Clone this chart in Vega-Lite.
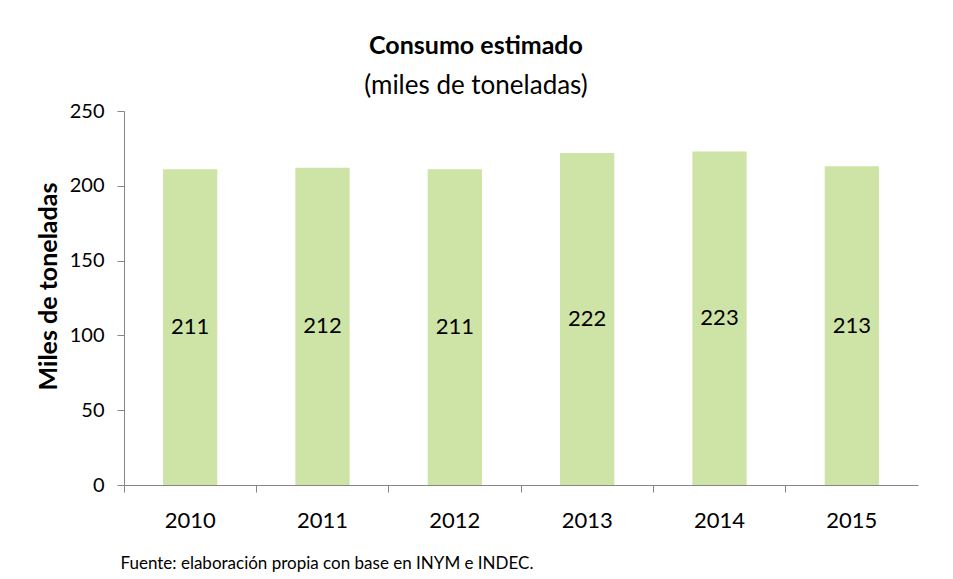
{
  "$schema": "https://vega.github.io/schema/vega-lite/v6.json",
  "autosize": "none",
  "width": 794,
  "height": 374,
  "padding": {"left": 124, "top": 111, "right": 35, "bottom": 94},
  "background": "white",
  "title": {
    "text": "Consumo estimado",
    "subtitle": "(miles de toneladas)",
    "anchor": "middle",
    "dx": -45,
    "offset": 2,
    "font": "Lato",
    "fontSize": 25,
    "fontWeight": "bold",
    "color": "black",
    "subtitleFont": "Lato",
    "subtitleFontSize": 26,
    "subtitleColor": "black",
    "subtitlePadding": 14
  },
  "data": {
    "values": [
      {"year": "2010", "value": 211},
      {"year": "2011", "value": 212},
      {"year": "2012", "value": 211},
      {"year": "2013", "value": 222},
      {"year": "2014", "value": 223},
      {"year": "2015", "value": 213}
    ]
  },
  "encoding": {
    "x": {
      "field": "year",
      "type": "ordinal",
      "scale": {"paddingInner": 0, "paddingOuter": 0},
      "axis": {
        "title": "Fuente: elaboración propia con base en INYM e INDEC.",
        "titleFont": "Lato",
        "titleFontSize": 17,
        "titleFontWeight": "normal",
        "titleColor": "black",
        "titleAnchor": "start",
        "titleAlign": "left",
        "titleBaseline": "middle",
        "titleX": -4,
        "titleY": 78,
        "labelAngle": 0,
        "labelFont": "Lato",
        "labelFontSize": 22,
        "labelColor": "black",
        "labelPadding": 18,
        "bandPosition": 0,
        "tickSize": 7,
        "tickColor": "#868686",
        "domainColor": "#868686",
        "grid": false
      }
    }
  },
  "layer": [
    {
      "mark": {"type": "bar", "color": "#cee4a6", "width": {"band": 0.41}},
      "encoding": {
        "y": {
          "field": "value",
          "type": "quantitative",
          "scale": {"domain": [0, 250], "nice": false},
          "axis": {
            "title": "Miles de toneladas",
            "titleFont": "Lato",
            "titleFontSize": 25,
            "titleFontWeight": "bold",
            "titleColor": "black",
            "titlePadding": 8,
            "titleY": 175,
            "values": [0, 50, 100, 150, 200, 250],
            "labelFont": "Lato",
            "labelFontSize": 20,
            "labelColor": "black",
            "labelPadding": 13,
            "tickSize": 7,
            "tickColor": "#868686",
            "domainColor": "#868686",
            "grid": false
          }
        }
      }
    },
    {
      "transform": [{"calculate": "datum.value / 2", "as": "mid"}],
      "mark": {"type": "text", "font": "Lato", "fontSize": 22, "color": "black", "baseline": "middle"},
      "encoding": {
        "y": {"field": "mid", "type": "quantitative"},
        "text": {"field": "value", "type": "quantitative"}
      }
    }
  ],
  "config": {"view": {"stroke": null}}
}
